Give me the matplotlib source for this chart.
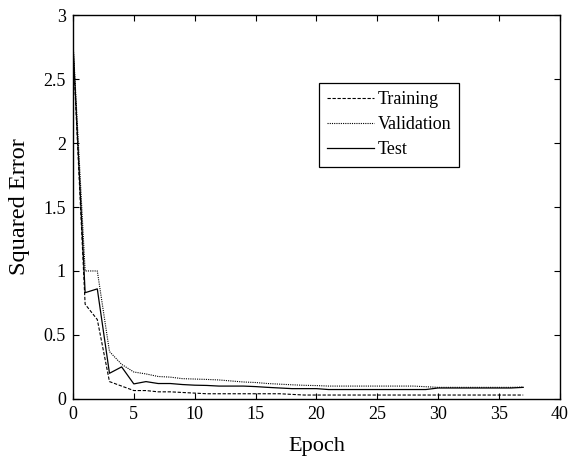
import matplotlib
matplotlib.use("Agg")
import matplotlib.pyplot as plt
import numpy as np

plt.rcParams["font.family"] = "Liberation Serif"

epochs = np.arange(38)
training = [2.75, 0.74, 0.62, 0.135, 0.10, 0.065, 0.065, 0.055, 0.055, 0.05,
            0.045, 0.04, 0.04, 0.04, 0.04, 0.04, 0.04, 0.04, 0.035, 0.03,
            0.03, 0.03, 0.03, 0.03, 0.03, 0.03, 0.03, 0.03, 0.03, 0.03,
            0.03, 0.03, 0.03, 0.03, 0.03, 0.03, 0.03, 0.03]
validation = [2.8, 1.0, 1.0, 0.37, 0.27, 0.21, 0.195, 0.175, 0.17, 0.158,
              0.155, 0.152, 0.148, 0.14, 0.132, 0.128, 0.12, 0.115, 0.11, 0.106,
              0.104, 0.10, 0.10, 0.10, 0.10, 0.10, 0.10, 0.10, 0.10, 0.095,
              0.09, 0.09, 0.09, 0.09, 0.09, 0.09, 0.09, 0.092]
test = [2.78, 0.83, 0.86, 0.20, 0.25, 0.117, 0.135, 0.12, 0.12, 0.112,
        0.107, 0.105, 0.10, 0.10, 0.10, 0.096, 0.09, 0.085, 0.08, 0.08,
        0.08, 0.073, 0.073, 0.073, 0.073, 0.073, 0.073, 0.073, 0.073, 0.073,
        0.085, 0.085, 0.085, 0.085, 0.085, 0.085, 0.085, 0.09]

fig = plt.figure(figsize=(5.7, 4.59), dpi=100)
ax = fig.add_axes([0.128, 0.131, 0.854, 0.836])

ax.plot(epochs, training, color="black", lw=0.8, ls=(0, (3, 1.5)), label="Training")
ax.plot(epochs, validation, color="black", lw=0.8, ls=(0, (1, 1)), label="Validation")
ax.plot(epochs, test, color="black", lw=0.9, ls="-", label="Test")

ax.set_xlim(0, 40); ax.set_ylim(0, 3)
ax.set_xticks(np.arange(0, 41, 5))
ax.set_yticks([0, 0.5, 1, 1.5, 2, 2.5, 3])
ax.set_yticklabels(["0", "0.5", "1", "1.5", "2", "2.5", "3"])
ax.tick_params(direction="in", top=True, right=True, labelsize=13, length=4, width=0.8, pad=5)
for s in ax.spines.values():
    s.set_linewidth(1.0)
ax.set_xlabel("Epoch", fontsize=16, labelpad=10)
ax.set_ylabel("Squared Error", fontsize=17.5, labelpad=10)

leg = ax.legend(loc="upper left", bbox_to_anchor=(0.505, 0.823), fontsize=13,
                frameon=True, fancybox=False, edgecolor="black", framealpha=1,
                handlelength=2.6, handletextpad=0.2, borderpad=0.45,
                labelspacing=0.45, borderaxespad=0)
leg.get_frame().set_linewidth(0.9)

fig.savefig("out.png", dpi=100)
